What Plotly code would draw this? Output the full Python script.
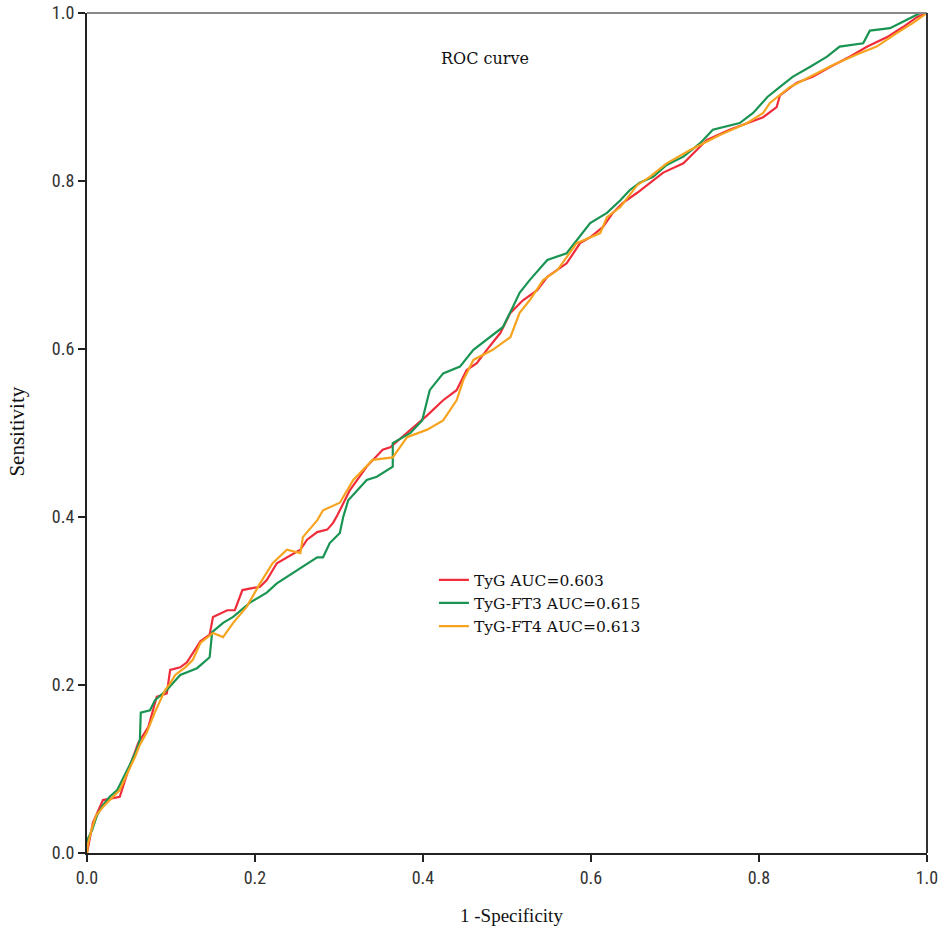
import plotly.graph_objects as go

# TyG (red)
tyg_fpr = [0, 0.002, 0.007, 0.019, 0.039, 0.048, 0.055, 0.061, 0.073, 0.083, 0.095, 0.099, 0.111, 0.119,
           0.135, 0.146, 0.150, 0.167, 0.176, 0.185, 0.206, 0.214, 0.226, 0.238, 0.254, 0.262, 0.274, 0.286,
           0.293, 0.298, 0.313, 0.333, 0.352, 0.361, 0.385, 0.405, 0.424, 0.440, 0.452, 0.464, 0.476, 0.492,
           0.504, 0.519, 0.536, 0.548, 0.571, 0.587, 0.599, 0.614, 0.626, 0.638, 0.655, 0.670, 0.686, 0.710,
           0.738, 0.765, 0.786, 0.805, 0.821, 0.825, 0.845, 0.864, 0.885, 0.908, 0.929, 0.952, 0.971, 0.988, 1.0]
tyg_tpr = [0, 0.010, 0.036, 0.063, 0.067, 0.095, 0.114, 0.131, 0.150, 0.186, 0.190, 0.218, 0.221, 0.227,
           0.252, 0.260, 0.281, 0.289, 0.289, 0.313, 0.317, 0.325, 0.345, 0.352, 0.361, 0.373, 0.382, 0.385,
           0.393, 0.402, 0.432, 0.460, 0.480, 0.483, 0.504, 0.521, 0.539, 0.551, 0.575, 0.583, 0.599, 0.619,
           0.643, 0.658, 0.670, 0.686, 0.702, 0.726, 0.733, 0.745, 0.762, 0.774, 0.786, 0.798, 0.810, 0.821,
           0.849, 0.861, 0.869, 0.876, 0.888, 0.902, 0.917, 0.924, 0.936, 0.948, 0.960, 0.971, 0.983, 0.995, 1.0]

# TyG-FT3 (green)
ft3_fpr = [0, 0, 0.006, 0.012, 0.019, 0.027, 0.036, 0.043, 0.051, 0.060, 0.063, 0.064, 0.075, 0.081, 0.095,
           0.111, 0.131, 0.146, 0.149, 0.162, 0.174, 0.194, 0.214, 0.226, 0.250, 0.274, 0.281, 0.289, 0.301,
           0.305, 0.311, 0.333, 0.345, 0.364, 0.364, 0.385, 0.399, 0.408, 0.424, 0.444, 0.460, 0.476, 0.495,
           0.507, 0.515, 0.527, 0.548, 0.571, 0.583, 0.599, 0.619, 0.635, 0.646, 0.658, 0.674, 0.690, 0.710,
           0.730, 0.745, 0.777, 0.793, 0.810, 0.825, 0.840, 0.861, 0.881, 0.896, 0.924, 0.932, 0.956, 0.976,
           0.992, 1.0]
ft3_tpr = [0, 0.015, 0.027, 0.045, 0.057, 0.067, 0.075, 0.089, 0.105, 0.125, 0.135, 0.167, 0.170, 0.182, 0.194,
           0.212, 0.220, 0.233, 0.263, 0.274, 0.281, 0.298, 0.310, 0.321, 0.337, 0.352, 0.352, 0.369, 0.381,
           0.400, 0.420, 0.444, 0.448, 0.460, 0.488, 0.500, 0.515, 0.551, 0.571, 0.579, 0.599, 0.611, 0.626,
           0.650, 0.667, 0.682, 0.706, 0.714, 0.730, 0.750, 0.762, 0.777, 0.789, 0.798, 0.805, 0.819, 0.829,
           0.845, 0.861, 0.869, 0.881, 0.900, 0.912, 0.924, 0.936, 0.948, 0.960, 0.964, 0.979, 0.982, 0.992,
           1.0, 1.0]

# TyG-FT4 (orange)
ft4_fpr = [0, 0.001, 0.006, 0.011, 0.021, 0.031, 0.039, 0.048, 0.057, 0.063, 0.071, 0.081, 0.087, 0.093,
           0.099, 0.105, 0.117, 0.126, 0.135, 0.150, 0.162, 0.174, 0.190, 0.206, 0.221, 0.238, 0.254, 0.257,
           0.274, 0.281, 0.301, 0.317, 0.340, 0.364, 0.381, 0.405, 0.424, 0.440, 0.448, 0.460, 0.483, 0.504,
           0.515, 0.527, 0.543, 0.560, 0.583, 0.611, 0.619, 0.635, 0.655, 0.670, 0.690, 0.718, 0.754, 0.786,
           0.805, 0.813, 0.837, 0.861, 0.888, 0.917, 0.940, 0.964, 0.983, 1.0]
ft4_tpr = [0, 0.010, 0.030, 0.045, 0.057, 0.067, 0.075, 0.095, 0.114, 0.129, 0.143, 0.168, 0.182, 0.194,
           0.202, 0.212, 0.221, 0.230, 0.250, 0.262, 0.257, 0.274, 0.293, 0.321, 0.345, 0.361, 0.357, 0.376,
           0.396, 0.408, 0.417, 0.444, 0.468, 0.471, 0.495, 0.504, 0.515, 0.539, 0.563, 0.587, 0.599, 0.614,
           0.643, 0.658, 0.682, 0.694, 0.726, 0.738, 0.757, 0.769, 0.795, 0.805, 0.821, 0.837, 0.855, 0.869,
           0.881, 0.893, 0.912, 0.924, 0.938, 0.951, 0.960, 0.976, 0.988, 1.0]

series_names = ["TyG AUC=0.603", "TyG-FT3 AUC=0.615", "TyG-FT4 AUC=0.613"]
series_colors = ["#ef2c3a", "#1a9452", "#f6a41f"]
tick_vals = [0.0, 0.2, 0.4, 0.6, 0.8, 1.0]
tick_text = ["0.0", "0.2", "0.4", "0.6", "0.8", "1.0"]

serif = "Liberation Serif, Times New Roman, serif"
wide_serif = "DejaVu Serif, serif"
narrow = "Liberation Sans Narrow, Arial Narrow, Roboto Condensed, Liberation Sans, sans-serif"

fig = go.Figure()
for (xs, ys), name, col in zip([(tyg_fpr, tyg_tpr), (ft3_fpr, ft3_tpr), (ft4_fpr, ft4_tpr)],
                               series_names, series_colors):
    fig.add_trace(go.Scatter(x=xs, y=ys, mode="lines", name=name,
                             line=dict(color=col, width=2.2)))

axis_common = dict(range=[0, 1], tickvals=tick_vals, ticktext=tick_text, ticks="outside",
                   ticklen=7, tickwidth=2, tickcolor="#222", showline=True, linecolor="#222",
                   linewidth=2, showgrid=False, zeroline=False, automargin=False,
                   tickfont=dict(family=narrow, size=18, color="#333"))

fig.update_layout(
    width=945, height=936,
    margin=dict(l=87, r=18, t=13, b=83),
    paper_bgcolor="white", plot_bgcolor="white",
    xaxis=dict(**axis_common),
    yaxis=dict(**axis_common),
    legend=dict(x=0.413, y=0.345, xanchor="left", yanchor="top", bgcolor="rgba(0,0,0,0)",
                font=dict(family=wide_serif, size=15.5, color="#111"), itemwidth=30, tracegroupgap=0),
    annotations=[
        dict(text="ROC curve", x=0.474, y=0.946, xref="paper", yref="paper",
             xanchor="center", yanchor="middle",
             showarrow=False, font=dict(family=wide_serif, size=16, color="#111")),
        dict(text="1 -Specificity", x=0.505, y=-0.074, xref="paper", yref="paper",
             xanchor="center", yanchor="middle",
             showarrow=False, font=dict(family=serif, size=19, color="#111")),
        dict(text="Sensitivity", x=-0.083, y=0.502, xref="paper", yref="paper",
             xanchor="center", yanchor="middle", textangle=-90,
             showarrow=False, font=dict(family=serif, size=21, color="#111")),
    ],
    shapes=[dict(type="line", xref="paper", yref="paper", x0=0, x1=1, y0=1, y1=1,
                 line=dict(color="#888", width=2)),
            dict(type="line", xref="paper", yref="paper", x0=1, x1=1, y0=0, y1=1,
                 line=dict(color="#333", width=2))],
)

fig.write_html("out.html", config={"displayModeBar": False},
               post_script="document.body.style.margin='0px'; document.body.style.overflow='hidden';")
